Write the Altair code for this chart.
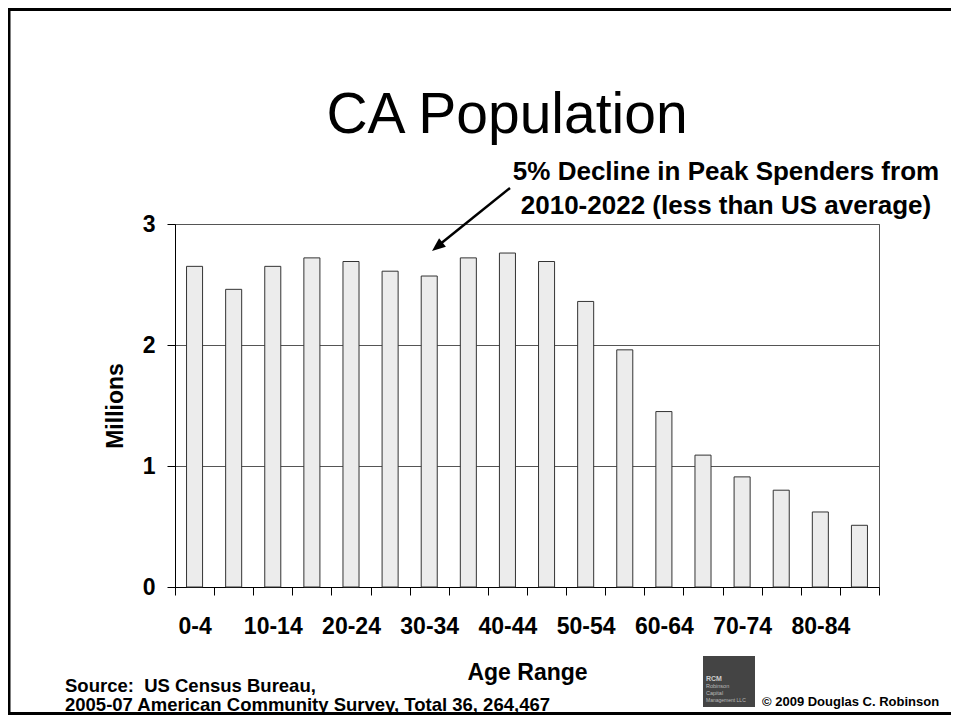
import json
import altair as alt
import pandas as pd

# ---- data ----
age_groups = ["0-4", "5-9", "10-14", "15-19", "20-24", "25-29", "30-34", "35-39",
              "40-44", "45-49", "50-54", "55-59", "60-64", "65-69", "70-74", "75-79",
              "80-84", "85+"]
population_millions = [2.65, 2.46, 2.65, 2.72, 2.69, 2.61, 2.57, 2.72,
                       2.76, 2.69, 2.36, 1.96, 1.45, 1.09, 0.91, 0.80,
                       0.62, 0.51]
shown_labels = ["0-4", "10-14", "20-24", "30-34", "40-44", "50-54", "60-64", "70-74", "80-84"]
y_ticks = [0, 1, 2, 3]

title_text = "CA Population"
callout_lines = ["5% Decline in Peak Spenders from", "2010-2022 (less than US average)"]
source_lines = ["Source:\u00a0 US Census Bureau,",
                "2005-07 American Community Survey, Total 36, 264,467"]
copyright_text = "\u00a9 2009 Douglas C. Robinson"
logo_lines = ["RCM", "Robinson", "Capital", "Management LLC"]

FONT = "Liberation Sans"
W, H = 704, 363

df = pd.DataFrame({"age": age_groups, "pop": population_millions})
one = alt.Data(values=[{}])

label_expr = "indexof(" + json.dumps(shown_labels) + ", datum.label) >= 0 ? datum.label : ''"

bars = alt.Chart(df).mark_bar(
    width=alt.RelativeBandSize(0.41), fill="#ececec", stroke="#333333", strokeWidth=1
).encode(
    x=alt.X("age:N", sort=age_groups,
            scale=alt.Scale(paddingInner=0, paddingOuter=0),
            axis=alt.Axis(title="Age Range", labelExpr=label_expr, labelAngle=0,
                          tickBand="extent", tickSize=8, labelPadding=20,
                          labelFontSize=23, titleFontSize=23,
                          titleX=352, titleY=92, titleBaseline="alphabetic",
                          titleAlign="center", grid=False)),
    y=alt.Y("pop:Q", scale=alt.Scale(domain=[0, 3], nice=False),
            axis=alt.Axis(title="Millions", values=y_ticks, tickSize=8, labelPadding=12,
                          labelFontSize=23, titleFontSize=23,
                          titleX=-60, titleY=181.5, titleAngle=270,
                          titleBaseline="middle", titleAlign="center",
                          grid=True, gridColor="#555555", gridWidth=1)),
)


def txt(s, x, y, size, weight="bold", align="left", color="black"):
    return alt.Chart(one).mark_text(
        text=s, font=FONT, fontSize=size, fontWeight=weight, align=align,
        baseline="alphabetic", color=color
    ).encode(x=alt.value(x), y=alt.value(y))


layers = [bars]
layers.append(txt(title_text, 332, -91, 57, weight="normal", align="center"))
layers.append(txt(callout_lines[0], 551, -44, 26, align="center"))
layers.append(txt(callout_lines[1], 551, -10, 26, align="center"))

arrow_line = alt.Chart(one).mark_rule(color="black", strokeWidth=2.5).encode(
    x=alt.value(335), y=alt.value(-36), x2=alt.value(264), y2=alt.value(21)
)
arrow_head = alt.Chart(one).mark_point(
    shape="M0,0 L0.6,1.5 L-0.6,1.5 Z", size=324, filled=True, fill="black",
    opacity=1, angle=231, strokeWidth=0
).encode(x=alt.value(257), y=alt.value(27))
layers += [arrow_line, arrow_head]

layers.append(txt(source_lines[0], -110, 468, 18.5))
layers.append(txt(source_lines[1], -110, 487, 18.5))

logo = alt.Chart(one).mark_rect(fill="#444444").encode(
    x=alt.value(528), x2=alt.value(580), y=alt.value(432), y2=alt.value(483)
)
layers.append(logo)
layers.append(txt(logo_lines[0], 531, 457, 7, color="#cccccc"))
layers.append(txt(logo_lines[1], 531, 464, 5.5, weight="normal", color="#bbbbbb"))
layers.append(txt(logo_lines[2], 531, 471, 5.5, weight="normal", color="#bbbbbb"))
layers.append(txt(logo_lines[3], 531, 478, 5, weight="normal", color="#bbbbbb"))
layers.append(txt(copyright_text, 587, 482, 13))

frame = alt.Chart(one).mark_rect(fillOpacity=0, stroke="black", strokeWidth=3).encode(
    x=alt.value(-166), x2=alt.value(800), y=alt.value(-214.5), y2=alt.value(489.5)
)
layers.append(frame)

chart = alt.layer(*layers).properties(
    width=W, height=H,
    autosize=alt.AutoSizeParams(type="none"),
    padding={"left": 167, "top": 216, "right": 72, "bottom": 128},
    background="white",
).configure_view(
    stroke="#555555", strokeWidth=1
).configure_axis(
    labelFont=FONT, titleFont=FONT, labelFontWeight="bold", titleFontWeight="bold",
    labelColor="black", titleColor="black", domainColor="black", tickColor="black",
    domainWidth=1, tickWidth=1
)

chart.save("out.html", embed_options={"renderer": "svg", "actions": False})
